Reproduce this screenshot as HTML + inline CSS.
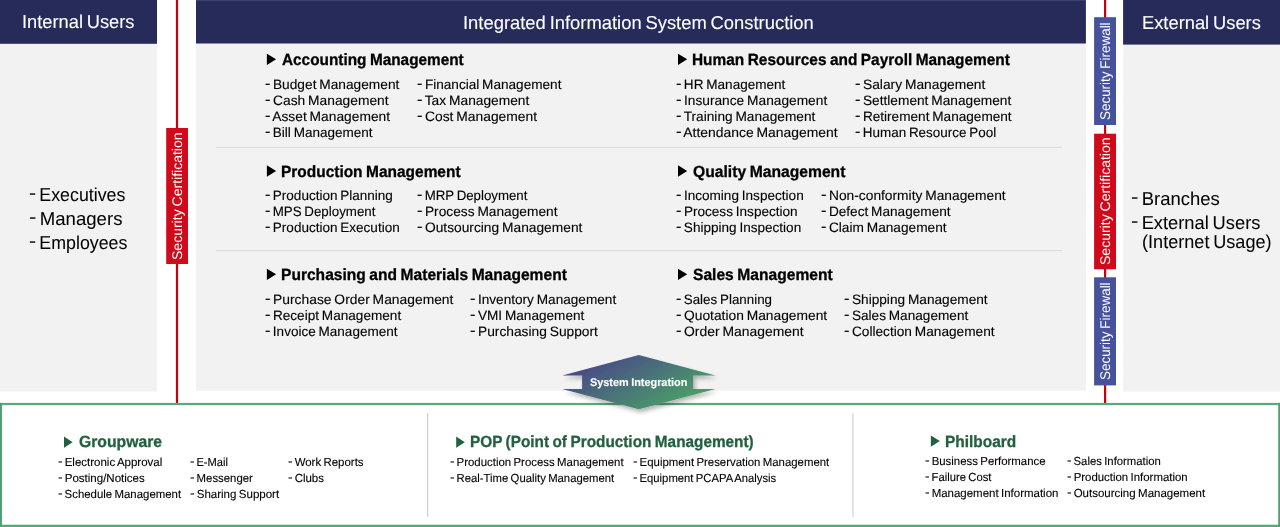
<!DOCTYPE html>
<html lang="en">
<head>
<meta charset="utf-8">
<title>Integrated Information System Construction</title>
<style>
html,body{margin:0;padding:0;background:#fff;}
body{width:1280px;height:527px;overflow:hidden;font-family:"Liberation Sans",sans-serif;}
#stage{will-change:transform;position:relative;width:1280px;height:527px;overflow:hidden;background:#fff;}
.b{position:absolute;}
.t{position:absolute;margin:0;padding:0;line-height:1;white-space:nowrap;font-weight:400;color:#000;text-rendering:geometricPrecision;transform-origin:0 0;-webkit-text-stroke:0.12px currentColor;}
.t i{display:inline-block;font-style:normal;transform:scaleX(1.2) translateY(-0.09em);transform-origin:0 50%;margin-right:0.04em;}
.sd{-webkit-text-stroke-width:0.05px;}
.hd{color:#fff;-webkit-text-stroke-width:0.1px;}
.ttl{font-weight:700;-webkit-text-stroke-width:0.3px;}
.g{color:#22603f;}
.si{color:#fff;font-weight:700;-webkit-text-stroke-width:0.15px;}
.v{position:absolute;width:0;height:0;color:#fff;}
.v>span{position:absolute;left:0;top:0;white-space:nowrap;line-height:1;transform-origin:0 0;text-rendering:geometricPrecision;}
</style>
</head>
<body>
<div id="stage">
<svg class="b" style="left:0;top:0" width="1280" height="527" viewBox="0 0 1280 527">
<defs>
<linearGradient id="ag" gradientUnits="userSpaceOnUse" x1="562.3" y1="380.7" x2="596.1" y2="444.4"><stop offset="0" stop-color="#4a4d86"/><stop offset="1" stop-color="#4a9a6a"/></linearGradient>
<filter id="sh" x="-20%" y="-20%" width="140%" height="150%"><feGaussianBlur in="SourceAlpha" stdDeviation="2"/><feOffset dx="1.5" dy="2.5"/><feComponentTransfer><feFuncA type="linear" slope="0.3"/></feComponentTransfer><feMerge><feMergeNode/><feMergeNode in="SourceGraphic"/></feMerge></filter>
</defs>
<rect x="0" y="0" width="157" height="391.6" fill="#f2f2f2"/>
<rect x="0" y="0" width="157" height="43.8" fill="#262b59"/>
<rect x="196" y="0" width="889.9" height="390.7" fill="#f2f2f2"/>
<rect x="196" y="0" width="889.9" height="43.5" fill="#262b59"/>
<rect x="196" y="0" width="889.9" height="0.9" fill="#3c456f"/>
<rect x="1123.1" y="0" width="156.9" height="391.5" fill="#f2f2f2"/>
<rect x="1123.1" y="0" width="156.9" height="44.6" fill="#262b59"/>
<rect x="216" y="146.8" width="846" height="1.1" fill="#dcdcdc"/>
<rect x="216" y="250" width="846" height="1.1" fill="#dcdcdc"/>
<rect x="175.9" y="0" width="2.2" height="404" fill="#c9000b"/>
<rect x="166.2" y="128" width="21.8" height="136" fill="#d00a1a"/>
<rect x="1104" y="0" width="2.2" height="404" fill="#c9000b"/>
<rect x="1094.1" y="17.2" width="21.9" height="107.8" fill="#46529b"/>
<rect x="1094.1" y="133.7" width="21.9" height="135.6" fill="#d00a1a"/>
<rect x="1094.1" y="277.3" width="21.9" height="108.1" fill="#46529b"/>
<rect x="0" y="402.9" width="1280" height="2.2" fill="#5aa87c"/>
<rect x="0" y="524.7" width="1280" height="2.3" fill="#5aa87c"/>
<rect x="0" y="402.9" width="2" height="124.1" fill="#4fa172"/>
<rect x="1278.2" y="402.9" width="1.8" height="124.1" fill="#4fa172"/>
<rect x="427" y="413" width="1.2" height="104" fill="#cdcdcd"/>
<rect x="852.3" y="413" width="1.3" height="104" fill="#d4d4d4"/>
<polygon filter="url(#sh)" fill="url(#ag)" points="638.8,355.1 715.6,375.5 693.2,375.5 693.2,389.1 715.6,389.1 638.8,409.3 562.2,389.1 582.1,389.1 582.1,375.5 562.2,375.5"/>
</svg>
<svg class="b" style="left:0;top:0" width="1280" height="527" viewBox="0 0 1280 527">
<polygon points="266.9,53.7 276.1,59.35 266.9,65" fill="#000"/>
<polygon points="266.9,165.3 276.1,171 266.9,176.7" fill="#000"/>
<polygon points="266.9,268.7 276.1,274.35 266.9,280" fill="#000"/>
<polygon points="678,53.7 687.2,59.35 678,65" fill="#000"/>
<polygon points="678,165.3 687.2,171 678,176.7" fill="#000"/>
<polygon points="678,268.7 687.2,274.35 678,280" fill="#000"/>
<polygon points="64,436.5 72.6,442.15 64,447.8" fill="#22603f"/>
<polygon points="456.2,436.5 464.8,442.15 456.2,447.8" fill="#22603f"/>
<polygon points="930.9,435.4 939.8,441.1 930.9,446.8" fill="#22603f"/>
</svg>
<h2 class="t hd" style="left:21.55px;top:13px;font-size:18.7px;word-spacing:-1.31px;transform:scaleX(0.9779)">Internal Users</h2>
<h2 class="t hd" style="left:463.22px;top:14px;font-size:18.7px;word-spacing:-1.31px;transform:scaleX(0.984)">Integrated Information System Construction</h2>
<h2 class="t hd" style="left:1141.59px;top:14px;font-size:18.7px;word-spacing:-1.31px;transform:scaleX(0.9801)">External Users</h2>
<span class="t sd" style="left:29px;top:186px;font-size:18.7px;word-spacing:-1.31px;transform:scaleX(0.9523)"><i>-</i> Executives</span>
<span class="t sd" style="left:29px;top:210px;font-size:18.7px;word-spacing:-1.31px;transform:scaleX(0.9945)"><i>-</i> Managers</span>
<span class="t sd" style="left:29px;top:234px;font-size:18.7px;word-spacing:-1.31px;transform:scaleX(0.9524)"><i>-</i> Employees</span>
<span class="t sd" style="left:1131.48px;top:190px;font-size:18.7px;word-spacing:-1.31px;transform:scaleX(0.9885)"><i>-</i> Branches</span>
<span class="t sd" style="left:1131.48px;top:214px;font-size:18.7px;word-spacing:-1.31px;transform:scaleX(0.9795)"><i>-</i> External Users</span>
<span class="t sd" style="left:1142.31px;top:233px;font-size:18.7px;word-spacing:-1.31px;transform:scaleX(0.9689)">(Internet Usage)</span>
<h3 class="t ttl" style="left:281.89px;top:52px;font-size:16.2px;word-spacing:-0.81px;transform:scaleX(0.9481)">Accounting Management</h3>
<span class="t" style="left:265.01px;top:78px;font-size:13.6px;word-spacing:-0.95px;transform:scaleX(1.0091)"><i>-</i> Budget Management</span>
<span class="t" style="left:265.01px;top:94px;font-size:13.6px;word-spacing:-0.95px;transform:scaleX(1.0149)"><i>-</i> Cash Management</span>
<span class="t" style="left:265.02px;top:110px;font-size:13.6px;word-spacing:-0.95px;transform:scaleX(1.0141)"><i>-</i> Asset Management</span>
<span class="t" style="left:265.02px;top:126px;font-size:13.6px;word-spacing:-0.95px;transform:scaleX(0.9928)"><i>-</i> Bill Management</span>
<span class="t" style="left:417.02px;top:78px;font-size:13.6px;word-spacing:-0.95px;transform:scaleX(0.9996)"><i>-</i> Financial Management</span>
<span class="t" style="left:417.02px;top:94px;font-size:13.6px;word-spacing:-0.95px;transform:scaleX(1.0124)"><i>-</i> Tax Management</span>
<span class="t" style="left:417.01px;top:110px;font-size:13.6px;word-spacing:-0.95px;transform:scaleX(1.0172)"><i>-</i> Cost Management</span>
<h3 class="t ttl" style="left:281.04px;top:164px;font-size:16.2px;word-spacing:-0.81px;transform:scaleX(0.9548)">Production Management</h3>
<span class="t" style="left:265.02px;top:189px;font-size:13.6px;word-spacing:-0.95px;transform:scaleX(0.994)"><i>-</i> Production Planning</span>
<span class="t" style="left:265.02px;top:205px;font-size:13.6px;word-spacing:-0.95px;transform:scaleX(0.9794)"><i>-</i> MPS Deployment</span>
<span class="t" style="left:265.02px;top:221px;font-size:13.6px;word-spacing:-0.95px;transform:scaleX(0.9947)"><i>-</i> Production Execution</span>
<span class="t" style="left:417.02px;top:189px;font-size:13.6px;word-spacing:-0.95px;transform:scaleX(0.9752)"><i>-</i> MRP Deployment</span>
<span class="t" style="left:417.02px;top:205px;font-size:13.6px;word-spacing:-0.95px;transform:scaleX(1.0094)"><i>-</i> Process Management</span>
<span class="t" style="left:417.02px;top:221px;font-size:13.6px;word-spacing:-0.95px;transform:scaleX(1.0123)"><i>-</i> Outsourcing Management</span>
<h3 class="t ttl" style="left:281.03px;top:267px;font-size:16.2px;word-spacing:-0.81px;transform:scaleX(0.962)">Purchasing and Materials Management</h3>
<span class="t" style="left:265.01px;top:293px;font-size:13.6px;word-spacing:-0.95px;transform:scaleX(1.018)"><i>-</i> Purchase Order Management</span>
<span class="t" style="left:265.02px;top:309px;font-size:13.6px;word-spacing:-0.95px;transform:scaleX(1.0004)"><i>-</i> Receipt Management</span>
<span class="t" style="left:265.02px;top:325px;font-size:13.6px;word-spacing:-0.95px;transform:scaleX(0.9955)"><i>-</i> Invoice Management</span>
<span class="t" style="left:470.02px;top:293px;font-size:13.6px;word-spacing:-0.95px;transform:scaleX(1.0016)"><i>-</i> Inventory Management</span>
<span class="t" style="left:470.02px;top:309px;font-size:13.6px;word-spacing:-0.95px;transform:scaleX(1.0009)"><i>-</i> VMI Management</span>
<span class="t" style="left:470.01px;top:325px;font-size:13.6px;word-spacing:-0.95px;transform:scaleX(1.0126)"><i>-</i> Purchasing Support</span>
<h3 class="t ttl" style="left:691.72px;top:52px;font-size:16.2px;word-spacing:-0.81px;transform:scaleX(0.9513)">Human Resources and Payroll Management</h3>
<span class="t" style="left:675.98px;top:78px;font-size:13.6px;word-spacing:-0.95px;transform:scaleX(0.9971)"><i>-</i> HR Management</span>
<span class="t" style="left:675.97px;top:94px;font-size:13.6px;word-spacing:-0.95px;transform:scaleX(1.0096)"><i>-</i> Insurance Management</span>
<span class="t" style="left:675.98px;top:110px;font-size:13.6px;word-spacing:-0.95px;transform:scaleX(1.0067)"><i>-</i> Training Management</span>
<span class="t" style="left:675.97px;top:126px;font-size:13.6px;word-spacing:-0.95px;transform:scaleX(1.0225)"><i>-</i> Attendance Management</span>
<span class="t" style="left:855.01px;top:78px;font-size:13.6px;word-spacing:-0.95px;transform:scaleX(1.0137)"><i>-</i> Salary Management</span>
<span class="t" style="left:855.02px;top:94px;font-size:13.6px;word-spacing:-0.95px;transform:scaleX(1.0075)"><i>-</i> Settlement Management</span>
<span class="t" style="left:855.02px;top:110px;font-size:13.6px;word-spacing:-0.95px;transform:scaleX(1.0005)"><i>-</i> Retirement Management</span>
<span class="t" style="left:855.02px;top:126px;font-size:13.6px;word-spacing:-0.95px;transform:scaleX(0.9886)"><i>-</i> Human Resource Pool</span>
<h3 class="t ttl" style="left:692.54px;top:164px;font-size:16.2px;word-spacing:-0.81px;transform:scaleX(0.9676)">Quality Management</h3>
<span class="t" style="left:675.98px;top:189px;font-size:13.6px;word-spacing:-0.95px;transform:scaleX(0.9987)"><i>-</i> Incoming Inspection</span>
<span class="t" style="left:675.98px;top:205px;font-size:13.6px;word-spacing:-0.95px;transform:scaleX(0.999)"><i>-</i> Process Inspection</span>
<span class="t" style="left:675.98px;top:221px;font-size:13.6px;word-spacing:-0.95px;transform:scaleX(0.9966)"><i>-</i> Shipping Inspection</span>
<span class="t" style="left:820.66px;top:189px;font-size:13.6px;word-spacing:-0.95px;transform:scaleX(1.0131)"><i>-</i> Non-conformity Management</span>
<span class="t" style="left:820.66px;top:205px;font-size:13.6px;word-spacing:-0.95px;transform:scaleX(1.0021)"><i>-</i> Defect Management</span>
<span class="t" style="left:820.66px;top:221px;font-size:13.6px;word-spacing:-0.95px;transform:scaleX(1.0065)"><i>-</i> Claim Management</span>
<h3 class="t ttl" style="left:692.57px;top:267px;font-size:16.2px;word-spacing:-0.81px;transform:scaleX(0.9635)">Sales Management</h3>
<span class="t" style="left:675.98px;top:293px;font-size:13.6px;word-spacing:-0.95px;transform:scaleX(0.9836)"><i>-</i> Sales Planning</span>
<span class="t" style="left:675.98px;top:309px;font-size:13.6px;word-spacing:-0.95px;transform:scaleX(1.0147)"><i>-</i> Quotation Management</span>
<span class="t" style="left:675.97px;top:325px;font-size:13.6px;word-spacing:-0.95px;transform:scaleX(1.0223)"><i>-</i> Order Management</span>
<span class="t" style="left:844.18px;top:293px;font-size:13.6px;word-spacing:-0.95px;transform:scaleX(1.0047)"><i>-</i> Shipping Management</span>
<span class="t" style="left:844.18px;top:309px;font-size:13.6px;word-spacing:-0.95px;transform:scaleX(1.0014)"><i>-</i> Sales Management</span>
<span class="t" style="left:844.18px;top:325px;font-size:13.6px;word-spacing:-0.95px;transform:scaleX(1.0057)"><i>-</i> Collection Management</span>
<h3 class="t ttl g" style="left:78.5px;top:434px;font-size:16.2px;word-spacing:-0.81px;transform:scaleX(0.9723)">Groupware</h3>
<span class="t" style="left:58.26px;top:457px;font-size:11.7px;word-spacing:-0.82px;transform:scaleX(0.9838)"><i>-</i> Electronic Approval</span>
<span class="t" style="left:58.26px;top:473px;font-size:11.7px;word-spacing:-0.82px;transform:scaleX(0.9862)"><i>-</i> Posting/Notices</span>
<span class="t" style="left:58.26px;top:489px;font-size:11.7px;word-spacing:-0.82px;transform:scaleX(0.9755)"><i>-</i> Schedule Management</span>
<span class="t" style="left:190.42px;top:457px;font-size:11.7px;word-spacing:-0.82px;transform:scaleX(0.9513)"><i>-</i> E-Mail</span>
<span class="t" style="left:190.42px;top:473px;font-size:11.7px;word-spacing:-0.82px;transform:scaleX(0.9726)"><i>-</i> Messenger</span>
<span class="t" style="left:190.42px;top:489px;font-size:11.7px;word-spacing:-0.82px;transform:scaleX(0.9859)"><i>-</i> Sharing Support</span>
<span class="t" style="left:288.1px;top:457px;font-size:11.7px;word-spacing:-0.82px;transform:scaleX(0.9785)"><i>-</i> Work Reports</span>
<span class="t" style="left:288.1px;top:473px;font-size:11.7px;word-spacing:-0.82px;transform:scaleX(0.9811)"><i>-</i> Clubs</span>
<h3 class="t ttl g" style="left:469.53px;top:434px;font-size:16.2px;word-spacing:-0.81px;transform:scaleX(0.947)">POP (Point of Production Management)</h3>
<span class="t" style="left:449.94px;top:457px;font-size:11.7px;word-spacing:-0.82px;transform:scaleX(0.9757)"><i>-</i> Production Process Management</span>
<span class="t" style="left:449.94px;top:473px;font-size:11.7px;word-spacing:-0.82px;transform:scaleX(0.9672)"><i>-</i> Real-Time Quality Management</span>
<span class="t" style="left:632.78px;top:457px;font-size:11.7px;word-spacing:-0.82px;transform:scaleX(0.9748)"><i>-</i> Equipment Preservation Management</span>
<span class="t" style="left:632.78px;top:473px;font-size:11.7px;word-spacing:-0.82px;transform:scaleX(0.9645)"><i>-</i> Equipment PCAPA Analysis</span>
<h3 class="t ttl g" style="left:944.72px;top:434px;font-size:16.2px;word-spacing:-0.81px;transform:scaleX(0.953)">Philboard</h3>
<span class="t" style="left:925.42px;top:456px;font-size:11.7px;word-spacing:-0.82px;transform:scaleX(0.9763)"><i>-</i> Business Performance</span>
<span class="t" style="left:925.43px;top:472px;font-size:11.7px;word-spacing:-0.82px;transform:scaleX(0.9627)"><i>-</i> Failure Cost</span>
<span class="t" style="left:925.42px;top:488px;font-size:11.7px;word-spacing:-0.82px;transform:scaleX(0.9815)"><i>-</i> Management Information</span>
<span class="t" style="left:1067.26px;top:456px;font-size:11.7px;word-spacing:-0.82px;transform:scaleX(0.9674)"><i>-</i> Sales Information</span>
<span class="t" style="left:1067.26px;top:472px;font-size:11.7px;word-spacing:-0.82px;transform:scaleX(0.9765)"><i>-</i> Production Information</span>
<span class="t" style="left:1067.26px;top:488px;font-size:11.7px;word-spacing:-0.82px;transform:scaleX(0.9837)"><i>-</i> Outsourcing Management</span>
<span class="t si" style="left:589.7px;top:378px;font-size:11.2px;word-spacing:-0.56px;transform:scaleX(0.9719)">System Integration</span>
<span class="v" style="left:182.31px;top:259.6px;font-size:14px;word-spacing:-0.98px"><span style="transform:rotate(-90deg) scaleX(1.0014) translateY(-0.8465em)">Security Certification</span></span>
<span class="v" style="left:1110.31px;top:120px;font-size:14px;word-spacing:-0.98px"><span style="transform:rotate(-90deg) scaleX(0.9596) translateY(-0.8465em)">Security Firewall</span></span>
<span class="v" style="left:1110.31px;top:265.3px;font-size:14px;word-spacing:-0.98px"><span style="transform:rotate(-90deg) scaleX(1.0014) translateY(-0.8465em)">Security Certification</span></span>
<span class="v" style="left:1110.31px;top:380px;font-size:14px;word-spacing:-0.98px"><span style="transform:rotate(-90deg) scaleX(0.9596) translateY(-0.8465em)">Security Firewall</span></span>
</div>
</body>
</html>
